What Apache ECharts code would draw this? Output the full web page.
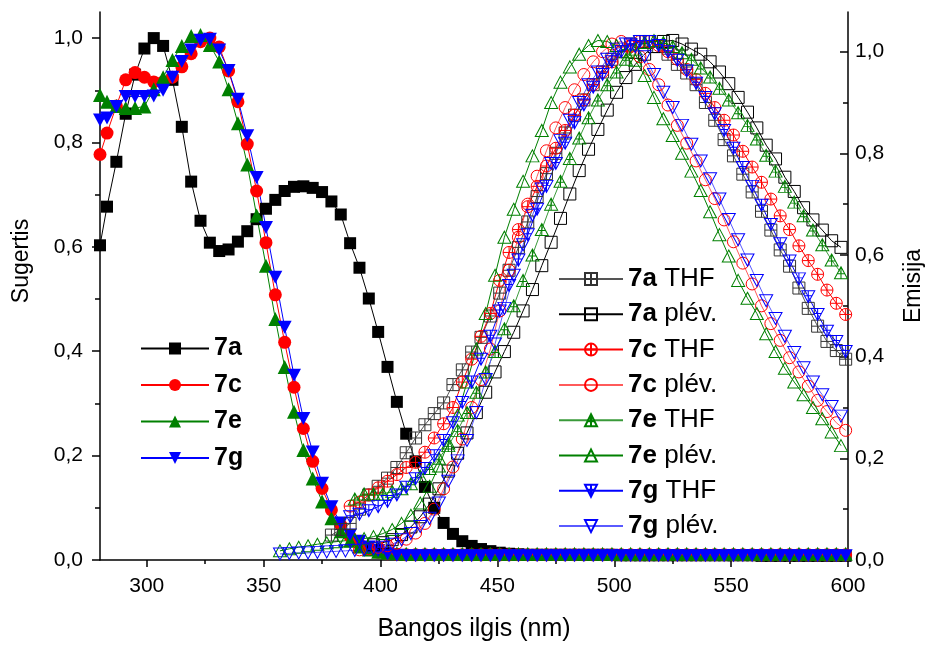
<!DOCTYPE html>
<html>
<head>
<meta charset="utf-8">
<script src="https://cdn.jsdelivr.net/npm/echarts@6/dist/echarts.min.js"></script>
<style>
html,body{margin:0;padding:0;background:#fff;}
#chart{width:933px;height:647px;}
</style>
</head>
<body>
<div id="chart"></div>
<script>
// ---------- DATA ----------
const wlAbs = [280,283,287,291,295,299,303,307,311,315,319,323,327,331,335,339,343,347,351,355,
359,363,367,371,375,379,383,387,391,395,399,403,407,411,415,419,423,427,431,435,
439,443,447,451,455,459,463,467,471,475,479,483,487,491,495,499,503,507,511,515,
519,523,527,531,535,539,543,547,551,555,559,563,567,571,575,579,583,587,591,595,599];

const abs7a = [.603,.677,.763,.855,.93,.98,1.0,.985,.92,.83,.725,.65,.608,.592,.595,.61,.63,.653,.673,.69,
.707,.715,.716,.713,.705,.687,.662,.607,.56,.501,.437,.37,.303,.242,.189,.14,.1,.071,.05,.036,
.027,.021,.017,.014,.012,.011,.010,.010,.010,.010,.010,.010,.010,.010,.010,.010,.009,.009,.009,.009,
.009,.009,.009,.009,.009,.009,.009,.009,.009,.009,.009,.008,.008,.008,.008,.008,.008,.008,.008,.008,.008];

const abs7c = [.777,.818,.87,.92,.934,.925,.916,.916,.925,.945,.97,.993,1.0,.983,.937,.878,.797,.707,.608,.508,
.417,.331,.252,.189,.137,.096,.067,.045,.03,.02,.015,.012,.011,.010,.010,.010,.010,.010,.010,.010,
.010,.010,.010,.010,.010,.010,.010,.010,.010,.010,.010,.010,.010,.010,.010,.010,.010,.010,.010,.010,
.010,.010,.010,.010,.010,.010,.010,.010,.010,.010,.010,.010,.010,.010,.010,.010,.010,.010,.010,.010,.010];

const abs7e = [.891,.878,.87,.866,.866,.869,.902,.925,.958,.985,1.004,1.006,.987,.955,.902,.837,.758,.66,.564,.462,
.37,.284,.211,.156,.112,.08,.055,.037,.026,.02,.016,.014,.013,.012,.012,.012,.012,.012,.012,.012,
.012,.012,.012,.012,.012,.012,.012,.012,.012,.012,.012,.012,.012,.012,.012,.012,.012,.012,.012,.012,
.012,.012,.012,.012,.012,.012,.012,.012,.012,.012,.012,.012,.012,.012,.012,.012,.012,.012,.012,.012,.012];

const abs7g = [.843,.847,.869,.888,.888,.888,.889,.9,.925,.955,.977,.996,.998,.977,.938,.883,.813,.733,.637,.542,
.446,.354,.271,.207,.147,.102,.071,.048,.036,.025,.018,.012,.009,.008,.008,.008,.008,.008,.008,.008,
.008,.008,.008,.008,.008,.008,.008,.008,.008,.008,.008,.008,.008,.008,.008,.008,.008,.008,.008,.008,
.008,.008,.008,.008,.008,.008,.008,.008,.008,.008,.008,.008,.008,.008,.008,.008,.008,.008,.008,.008,.008];

// emission wavelength grids
const wlEmA = [379,383,387,391,395,399,403,407,411,415,419,423,427,431,435,439,443,447,451,455,
459,463,467,471,475,479,483,487,491,495,499,503,507,511,515,519,523,527,531,535,
539,543,547,551,555,559,563,567,571,575,579,583,587,591,595,599];
const wlEmB = [357,361,365,369,373,377,381,385,389,393,397,401,405,409,413,417,421,425,429,433,
437,441,445,449,453,457,461,465,469,473,477,481,485,489,493,497,501,505,509,513,
517,521,525,529,533,537,541,545,549,553,557,561,565,569,573,577,581,585,589,593,597];

const em7aTHF = [.049,.06,.072,.1,.128,.145,.161,.182,.211,.24,.266,.288,.309,.345,.374,.409,.438,.48,.525,.57,
.615,.665,.715,.76,.8,.84,.875,.905,.935,.96,.985,1.0,1.015,1.02,1.02,1.01,.995,.975,.958,.935,
.9,.865,.827,.795,.759,.724,.686,.649,.61,.578,.535,.495,.46,.43,.412,.395];
const em7aFilm = [null,null,null,null,null,null,null,null,null,null,
.03,.034,.04,.05,.065,.085,.11,.14,.175,.21,.25,.29,.33,.37,.41,.448,.49,.532,.579,.625,
.672,.72,.766,.808,.847,.885,.92,.949,.975,.995,1.01,1.02,1.022,1.015,1.005,.995,.98,.96,.937,.91,
.881,.85,.816,.789,.753,.725,.693,.669,.649,.628,.615];
const em7cTHF = [null,null,
.106,.114,.128,.142,.155,.168,.182,.192,.212,.24,.268,.3,.35,.395,.44,.485,.55,.605,.65,.695,
.735,.775,.81,.845,.875,.905,.935,.96,.98,1.0,1.012,1.02,1.02,1.012,1.0,.985,.965,.945,.918,.89,
.865,.836,.804,.773,.743,.71,.677,.65,.618,.589,.562,.531,.505,.483];
const em7cFilm = [null,null,null,
.02,.022,.025,.028,.033,.041,.053,.072,.1,.14,.183,.238,.3,.355,.415,.49,.57,.635,.7,.755,
.805,.85,.89,.925,.955,.98,1.0,1.015,1.02,1.01,.99,.965,.935,.895,.855,.82,.785,.748,.711,.669,
.626,.584,.543,.5,.465,.432,.398,.37,.342,.314,.292,.27,.255];
const em7eTHF = [null,null,null,null,null,null,null,null,
.12,.13,.13,.13,.135,.14,.15,.165,.18,.2,.225,.255,.29,.33,.37,.41,.455,.5,.55,.6,
.65,.7,.745,.79,.83,.87,.905,.935,.96,.985,1.005,1.018,1.022,1.018,1.01,.998,.985,.968,.95,.928,
.905,.88,.855,.828,.796,.765,.735,.704,.677,.649,.62,.59,.565];
const em7eFilm = [.018,.022,.025,.028,.031,.034,.036,.038,.04,.042,.046,.052,.06,.072,.088,.112,.145,.185,.23,.285,
.35,.415,.485,.56,.635,.69,.745,.795,.845,.9,.94,.97,.995,1.012,1.022,1.02,1.012,1.0,.983,.953,
.91,.868,.835,.8,.765,.727,.685,.64,.598,.55,.515,.485,.445,.41,.377,.35,.325,.3,.278,.252,.225];
const em7gTHF = [null,null,
.085,.09,.097,.105,.115,.128,.143,.16,.18,.205,.235,.27,.31,.35,.395,.44,.49,.54,.59,.64,
.69,.735,.78,.82,.86,.895,.93,.955,.98,1.0,1.013,1.02,1.02,1.012,1.0,.983,.962,.938,.91,.878,
.845,.81,.772,.735,.698,.66,.622,.588,.553,.518,.483,.45,.43,.41];
const em7gFilm = [.012,.013,.014,.014,.015,.016,.017,.018,.019,.02,.022,.025,.031,.04,.052,.066,.082,.112,.155,.195,
.235,.29,.355,.425,.495,.56,.62,.678,.73,.78,.825,.865,.9,.935,.96,.985,1.005,1.015,1.01,.99,
.955,.92,.89,.855,.818,.785,.75,.71,.67,.63,.59,.55,.51,.475,.44,.408,.378,.35,.325,.302,.283];

const xTicks = [300,350,400,450,500,550,600];
const xMinorTicks = [325,375,425,475,525,575];
const yTicks = [0,0.2,0.4,0.6,0.8,1.0];
const yMinorTicks = [0.1,0.3,0.5,0.7,0.9];

// ---------- CHART ----------
const FONT = "'Liberation Sans', Arial, sans-serif";
function pairs(xs, ys){ const out=[]; for(let i=0;i<xs.length;i++){ if(ys[i]!=null) out.push([xs[i], ys[i]]); } return out; }
const comma = v => v.toFixed(1).replace('.', ',');

const SYM = {
  downFill: 'path://M0,0 L14,0 L7,13 Z',
  boxPlus: 'path://M0,0 L12,0 L12,12 L0,12 Z M6,0 L6,12 M0,6 L12,6',
  circPlus: 'path://M0,6 A6,6 0 1,1 12,6 A6,6 0 1,1 0,6 Z M6,0 L6,12 M0,6 L12,6',
  triPlus: 'path://M6.5,0 L13,12 L0,12 Z M6.5,0 L6.5,12 M3.2,7 L9.8,7',
  downPlus: 'path://M0,0 L13,0 L6.5,12 Z M6.5,0 L6.5,12 M3.2,5 L9.8,5',
  down: 'path://M0,0 L13,0 L6.5,12 Z'
};

function absSeries(name, vals, color, symbol, size){
  return { name, type:'line', xAxisIndex:0, yAxisIndex:0, data: pairs(wlAbs, vals),
    symbol, symbolSize:size, showAllSymbol:true, silent:true,
    lineStyle:{color, width:1}, itemStyle:{color, borderWidth:0} };
}
function emSeries(name, xs, vals, lineColor, mColor, symbol, size){
  return { name, type:'line', xAxisIndex:0, yAxisIndex:2, data: pairs(xs, vals),
    symbol, symbolSize:size, showAllSymbol:true, silent:true,
    lineStyle:{color: lineColor, width:1},
    itemStyle:{color:'rgba(255,255,255,0)', borderColor:mColor, borderWidth:1} };
}

const series = [
  absSeries('7a', abs7a, '#000000', 'rect', 12),
  absSeries('7c', abs7c, '#ff0000', 'circle', 13),
  absSeries('7e', abs7e, '#008000', 'triangle', 14),
  absSeries('7g', abs7g, '#0000ff', SYM.downFill, [14,13]),
  emSeries('7a THF', wlEmA, em7aTHF, '#555555', '#333333', SYM.boxPlus, 12),
  emSeries('7a plév.', wlEmB, em7aFilm, '#000000', '#000000', 'rect', 12),
  emSeries('7c THF', wlEmA, em7cTHF, '#ff0000', '#ff0000', SYM.circPlus, 12),
  emSeries('7c plév.', wlEmA, em7cFilm, '#ff5a5a', '#ff0000', 'circle', 12),
  emSeries('7e THF', wlEmB, em7eTHF, '#3a9a3a', '#008000', SYM.triPlus, [13,12]),
  emSeries('7e plév.', wlEmB, em7eFilm, '#008000', '#008000', 'triangle', [13,12]),
  emSeries('7g THF', wlEmA, em7gTHF, '#0000ff', '#0000ff', SYM.downPlus, [13,12]),
  emSeries('7g plév.', wlEmB, em7gFilm, '#5a5aff', '#0000ff', SYM.down, [13,12])
];

const axisLineStyle = {color:'#000', width:1.5};
const labelStyle = {color:'#000', fontSize:21, fontFamily:FONT};

const option = {
  animation:false,
  backgroundColor:'#fff',
  textStyle:{fontFamily:FONT},
  grid:{left:100, right:85, top:12, bottom:85, containLabel:false},
  legend:[
    { data:['7a','7c','7e','7g'], orient:'vertical', left:140, top:336, padding:0,
      itemWidth:68, itemHeight:15, itemGap:11.5, selectedMode:false,
      textStyle:{fontSize:25, fontWeight:'bold', color:'#000', fontFamily:FONT} },
    { data:['7a THF','7a plév.','7c THF','7c plév.','7e THF','7e plév.','7g THF','7g plév.'],
      orient:'vertical', left:558, top:266, padding:0, itemWidth:64, itemHeight:15, itemGap:9.3, selectedMode:false,
      formatter: n => { const i = n.indexOf(' '); return '{b|' + n.slice(0,i) + '}' + n.slice(i); },
      textStyle:{fontSize:26, color:'#000', fontFamily:FONT,
        rich:{ b:{fontSize:26, fontWeight:'bold', color:'#000', fontFamily:FONT} } } }
  ],
  xAxis:[
    { type:'value', min:280, max:600, position:'bottom',
      name:'Bangos ilgis (nm)', nameLocation:'middle', nameGap:57,
      nameTextStyle:{fontSize:25, color:'#000', fontFamily:FONT},
      axisLine:{show:true, lineStyle:axisLineStyle},
      axisTick:{show:true, inside:false, length:7, customValues:xTicks, lineStyle:axisLineStyle},
      axisLabel:{show:true, margin:16, customValues:xTicks, ...labelStyle},
      splitLine:{show:false} },
    { type:'value', min:280, max:600, position:'bottom', offset:0,
      axisLine:{show:false},
      axisTick:{show:true, inside:false, length:4, customValues:xMinorTicks, lineStyle:axisLineStyle},
      axisLabel:{show:false}, splitLine:{show:false} }
  ],
  yAxis:[
    { type:'value', min:0, max:1.05, position:'left',
      name:'Sugertis', nameLocation:'middle', nameGap:67, nameRotate:90,
      nameTextStyle:{fontSize:23, color:'#000', fontFamily:FONT, padding:[0,0,0,50]},
      axisLine:{show:true, lineStyle:axisLineStyle},
      axisTick:{show:true, inside:false, length:8, customValues:yTicks, lineStyle:axisLineStyle},
      axisLabel:{show:true, margin:17, customValues:yTicks, formatter:comma, ...labelStyle},
      splitLine:{show:false} },
    { type:'value', min:0, max:1.05, position:'left', offset:0,
      axisLine:{show:false},
      axisTick:{show:true, inside:false, length:5, customValues:yMinorTicks, lineStyle:axisLineStyle},
      axisLabel:{show:false}, splitLine:{show:false} },
    { type:'value', min:0, max:1.078, position:'right', offset:0,
      name:'Emisija', nameLocation:'middle', nameGap:54, nameRotate:90,
      nameTextStyle:{fontSize:23, color:'#000', fontFamily:FONT},
      axisLine:{show:true, lineStyle:axisLineStyle},
      axisTick:{show:true, inside:true, length:8, customValues:yTicks, lineStyle:axisLineStyle},
      axisLabel:{show:true, margin:7, customValues:yTicks, formatter:comma, ...labelStyle},
      splitLine:{show:false} },
    { type:'value', min:0, max:1.078, position:'right', offset:0,
      axisLine:{show:false},
      axisTick:{show:true, inside:true, length:5, customValues:yMinorTicks, lineStyle:axisLineStyle},
      axisLabel:{show:false}, splitLine:{show:false} }
  ],
  series
};

const chart = echarts.init(document.getElementById('chart'), null, {renderer:'canvas'});
chart.setOption(option);
</script>
</body>
</html>
